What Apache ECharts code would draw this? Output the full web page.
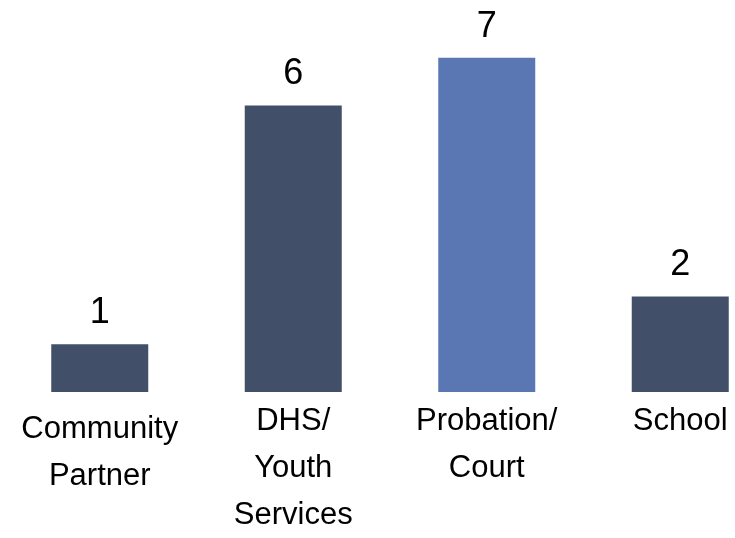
<!DOCTYPE html>
<html><head><meta charset="utf-8">
<script src="https://cdn.jsdelivr.net/npm/echarts@6/dist/echarts.min.js"></script>
<style>html,body{margin:0;padding:0;background:#fff}#c{width:735px;height:538px}</style>
</head><body><div id="c"></div>
<script>
const categories = ['Community\nPartner', 'DHS/\nYouth\nServices', 'Probation/\nCourt', 'School'];
const values = [1, 6, 7, 2];
const barColors = ['#415068', '#415068', '#5a77b3', '#415068'];
const font = '"Liberation Sans", Arial, sans-serif';

const chart = echarts.init(document.getElementById('c'));
chart.setOption({
  animation: false,
  grid: { left: 3, width: 774, top: 10, bottom: 146, containLabel: false, outerBoundsMode: 'none' },
  xAxis: {
    type: 'category',
    data: categories.map((c, i) => i === 0 ? { value: c, textStyle: { padding: [8, 0, 0, 0] } } : c),
    axisLine: { show: false }, axisTick: { show: false },
    axisLabel: { interval: 0, fontSize: 31, lineHeight: 47, color: '#000', fontFamily: font, margin: 6 }
  },
  yAxis: { type: 'value', min: 0, max: 8, show: false, splitLine: { show: false } },
  series: [{
    type: 'bar',
    barWidth: 97,
    data: values.map((v, i) => ({ value: v, itemStyle: { color: barColors[i] } })),
    label: { show: true, position: 'top', distance: 13, fontSize: 36, color: '#000', fontFamily: font }
  }]
});
</script></body></html>
